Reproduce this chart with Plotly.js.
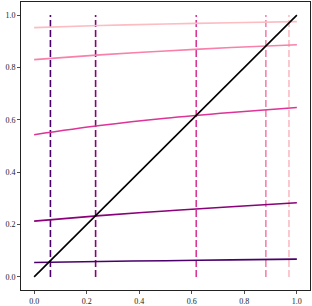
<!DOCTYPE html>
<html>
<head>
<script src="https://cdn.plot.ly/plotly-3.0.1.min.js"></script>
<style>html,body{margin:0;padding:0;background:#fff;}#chart{width:312px;height:306px;}</style>
</head>
<body>
<div id="chart"></div>
<script>
const xGrid = [0, 0.25, 0.5, 0.75, 1.0];
const curve1 = [0.055, 0.059, 0.062, 0.065, 0.068];
const curve2 = [0.213, 0.234, 0.252, 0.268, 0.283];
const curve3 = [0.543, 0.578, 0.606, 0.628, 0.647];
const curve4 = [0.830, 0.848, 0.863, 0.876, 0.887];
const curve5 = [0.952, 0.960, 0.966, 0.971, 0.975];
const fixedPoints = [0.062, 0.234, 0.617, 0.882, 0.970];
const colors = ['#49006a', '#8a0179', '#dd3497', '#f880aa', '#fbbcc2'];
const diagX = [0, 1];
const diagY = [0, 1];

const curves = [curve1, curve2, curve3, curve4, curve5];
const traces = [];
fixedPoints.forEach((p, i) => {
  traces.push({x: [p, p], y: [0, 1], mode: 'lines', type: 'scatter',
    line: {color: colors[i], width: 1.6, dash: '7px,3px'}, hoverinfo: 'skip'});
});
curves.forEach((c, i) => {
  traces.push({x: xGrid, y: c, mode: 'lines', type: 'scatter',
    line: {color: colors[i], width: 1.6, shape: 'spline'}, hoverinfo: 'skip'});
});
traces.push({x: diagX, y: diagY, mode: 'lines', type: 'scatter',
  line: {color: '#000000', width: 1.6}, hoverinfo: 'skip'});

const axisCommon = {
  range: [-0.05, 1.05], showgrid: false, zeroline: false,
  showline: true, mirror: true, linecolor: '#222', linewidth: 1,
  ticks: 'outside', ticklen: 3, tickwidth: 0.8, tickcolor: '#222',
  tickvals: [0, 0.2, 0.4, 0.6, 0.8, 1.0],
  ticktext: ['0.0', '0.2', '0.4', '0.6', '0.8', '1.0'],
  tickfont: {family: 'Liberation Serif, DejaVu Serif, serif', size: 8, color: '#222'}
};
const layout = {
  width: 312, height: 306,
  margin: {l: 21, r: 2, t: 2, b: 16},
  showlegend: false,
  paper_bgcolor: '#fff', plot_bgcolor: '#fff',
  xaxis: Object.assign({}, axisCommon),
  yaxis: Object.assign({}, axisCommon)
};
Plotly.newPlot('chart', traces, layout, {staticPlot: true});
</script>
</body>
</html>
